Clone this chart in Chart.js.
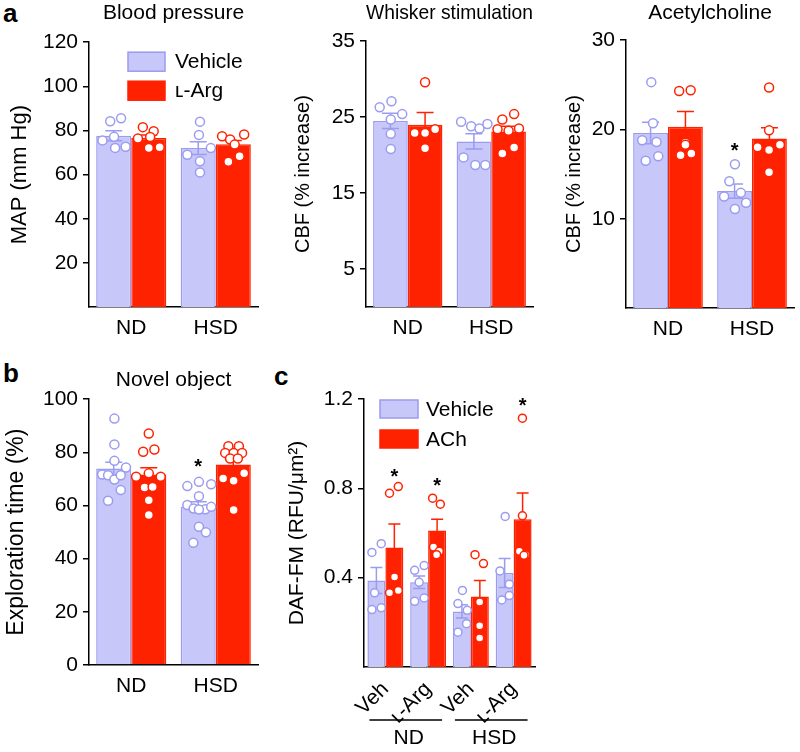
<!DOCTYPE html>
<html>
<head>
<meta charset="utf-8">
<script src="https://cdn.jsdelivr.net/npm/chart.js@4.4.1/dist/chart.umd.min.js"></script>
<style>
  body { margin: 0; background: #fff; }
  #fig { position: relative; width: 800px; height: 752px; font-family: "Liberation Sans", Arial, sans-serif; }
  #fig canvas { position: absolute; }
  .tag { position: absolute; font-weight: bold; font-size: 26px; line-height: 26px; }
</style>
</head>
<body>
<div id="fig">
  <div class="tag" style="left:3px;top:0px">a</div>
  <div class="tag" style="left:3px;top:360px">b</div>
  <div class="tag" style="left:274px;top:363px">c</div>
  <canvas id="bp" width="265" height="345" style="left:0;top:0"></canvas>
  <canvas id="wh" width="270" height="345" style="left:270px;top:0"></canvas>
  <canvas id="ac" width="260" height="345" style="left:540px;top:0"></canvas>
  <canvas id="nv" width="265" height="345" style="left:0;top:360px"></canvas>
  <canvas id="daf" width="280" height="392" style="left:270px;top:360px"></canvas>
</div>
<script>
(function() {
    'use strict';

    // categories
    var diets = ['ND', 'HSD'];
    var seriesA = ['Vehicle', 'ʟ-Arg'];
    var seriesC = ['Vehicle', 'ACh'];
    var groupsC = ['Veh', 'ʟ-Arg', 'Veh', 'ʟ-Arg'];

    // tick labels
    var bpTicks = [20, 40, 60, 80, 100, 120];
    var whTicks = [5, 15, 25, 35];
    var acTicks = [10, 20, 30];
    var nvTicks = [0, 20, 40, 60, 80, 100];
    var dafTicks = [0.4, 0.8, 1.2];

    // blood pressure, MAP (mm Hg)
    var bpVehMean = [77.6, 72.0];
    var bpVehSem = [2.3, 2.9];
    var bpArgMean = [76.6, 73.8];
    var bpArgSem = [1.4, 1.6];
    var bpVehPts = [[84.2, 85.5, 77.1, 75.5, 72.1, 72.6], [84.0, 78.0, 69.0, 72.0, 66.0, 61.0]];
    var bpArgPts = [[81.5, 79.7, 76.4, 77.0, 72.1, 72.4], [77.4, 75.9, 78.2, 73.6, 65.8, 68.3]];
    var bpVehJit = [[-0.10, 0.21, 0.01, -0.32, 0.04, 0.34], [0.05, 0.02, -0.31, 0.36, 0.05, 0.05]];
    var bpArgJit = [[-0.17, 0.14, -0.31, 0.04, 0.00, 0.31], [-0.32, -0.09, 0.31, 0.04, -0.14, 0.18]];

    // whisker stimulation, CBF (% increase)
    var whVehMean = [24.5, 21.8];
    var whVehSem = [1.0, 1.0];
    var whArgMean = [24.0, 23.1];
    var whArgSem = [1.6, 0.7];
    var whVehPts = [[26.3, 27.1, 25.4, 24.7, 22.8, 20.8], [24.4, 23.8, 23.5, 24.1, 19.7, 18.7, 18.7]];
    var whArgPts = [[29.6, 22.9, 22.9, 23.4, 20.9], [24.7, 25.4, 23.4, 23.2, 23.5, 20.2, 21.0]];
    var whVehJit = [[-0.31, 0.03, 0.34, 0.01, 0.01, 0.01], [-0.37, -0.08, 0.16, 0.39, -0.30, 0.04, 0.33]];
    var whArgJit = [[0.00, -0.30, 0.00, 0.29, 0.00], [-0.18, 0.16, -0.32, 0.00, 0.30, -0.18, 0.16]];

    // acetylcholine, CBF (% increase)
    var acVehMean = [19.6, 13.1];
    var acVehSem = [1.2, 0.8];
    var acArgMean = [20.3, 19.0];
    var acArgSem = [1.7, 1.2];
    var acVehPts = [[25.3, 20.7, 18.8, 18.6, 16.5, 17.0], [16.1, 14.2, 12.5, 12.9, 11.8, 11.1]];
    var acArgPts = [[24.3, 24.4, 18.5, 18.3, 17.1, 17.3], [24.7, 19.9, 18.0, 17.7, 18.3, 15.2]];
    var acVehJit = [[0.02, 0.07, -0.24, 0.17, -0.14, 0.22], [0.01, -0.15, -0.30, 0.18, 0.33, 0.01]];
    var acArgJit = [[-0.18, 0.15, 0.00, 0.00, -0.14, 0.17], [-0.01, -0.01, -0.34, -0.01, 0.30, -0.01]];
    var acVehStar = [null, 18.2];

    // novel object, exploration time (%)
    var nvVehMean = [73.9, 59.5];
    var nvVehSem = [2.4, 1.9];
    var nvArgMean = [71.7, 75.4];
    var nvArgSem = [2.5, 2.0];
    var nvVehPts = [[92.7, 83.0, 76.8, 74.3, 71.7, 71.4, 69.8, 71.4, 65.8, 61.8],
                    [67.3, 68.9, 68.0, 63.5, 60.2, 58.9, 58.6, 59.5, 58.5, 52.0, 49.9, 46.0]];
    var nvArgPts = [[87.1, 80.2, 81.1, 72.1, 70.8, 70.8, 66.8, 67.0, 62.0, 56.4],
                    [82.3, 82.3, 79.8, 79.8, 79.8, 77.7, 77.7, 70.2, 69.3, 72.1, 58.3]];
    var nvVehJit = [[0.02, 0.02, 0.02, 0.35, -0.33, -0.16, 0.02, 0.20, 0.20, -0.16],
                    [-0.31, 0.02, 0.37, 0.02, -0.31, -0.13, 0.20, 0.37, 0.02, 0.02, 0.22, -0.14]];
    var nvArgJit = [[0.00, -0.16, 0.16, 0.00, -0.36, 0.34, -0.12, 0.11, 0.00, 0.00],
                    [-0.14, 0.16, -0.23, 0.01, 0.25, -0.09, 0.13, -0.29, 0.01, 0.31, 0.01]];
    var nvVehStar = [null, 76.4];

    // DAF-FM (RFU/um2)
    var dafVehMean = [0.387, 0.379, 0.249, 0.421];
    var dafVehSem = [0.058, 0.028, 0.030, 0.065];
    var dafAchMean = [0.535, 0.611, 0.316, 0.662];
    var dafAchSem = [0.105, 0.051, 0.071, 0.117];
    var dafVehPts = [[0.513, 0.552, 0.332, 0.257, 0.265], [0.433, 0.454, 0.379, 0.294, 0.309],
                     [0.343, 0.284, 0.254, 0.194, 0.156], [0.674, 0.430, 0.370, 0.300, 0.320]];
    var dafAchPts = [[0.778, 0.808, 0.403, 0.332, 0.343], [0.756, 0.729, 0.537, 0.518, 0.503],
                     [0.503, 0.463, 0.291, 0.185, 0.130], [1.114, 0.677, 0.518, 0.503, 0.500]];
    var dafVehJit = [[-0.25, 0.27, -0.10, -0.25, 0.27], [-0.25, 0.28, 0.00, -0.25, 0.28],
                     [0.03, -0.22, 0.30, 0.26, -0.22], [0.03, -0.26, 0.26, -0.16, 0.26]];
    var dafAchJit = [[-0.27, 0.22, 0.01, -0.27, 0.22], [-0.25, 0.18, -0.20, 0.12, -0.03],
                     [-0.27, 0.20, -0.01, -0.01, -0.01], [-0.01, -0.01, -0.18, 0.17, 0.08]];
    var dafAchStar = [0.875, 0.834, null, 1.19];

    var FONT = '"Liberation Sans", Arial, sans-serif';
    var VEH_FILL = 'rgb(199,199,250)';
    var VEH_LINE = 'rgb(155,155,240)';
    var RED = 'rgb(255,34,0)';

    Chart.defaults.font.family = FONT;
    Chart.defaults.color = '#000';

    // error bars drawn right after each bar dataset
    var errorBars = {
        id: 'errorBars',
        afterDatasetDraw: function(chart, args, opts) {
            var ds = chart.data.datasets[args.index];
            if (!ds.sem) return;
            var y = chart.scales.y, ctx = chart.ctx, h = opts.cap / 2;
            ctx.save();
            ctx.strokeStyle = ds.borderColor;
            ctx.lineWidth = 1.5;
            args.meta.data.forEach(function(el, i) {
                var top = y.getPixelForValue(ds.data[i] + ds.sem[i]);
                var bot = y.getPixelForValue(ds.data[i] - ds.sem[i]);
                ctx.beginPath();
                ctx.moveTo(el.x, top); ctx.lineTo(el.x, bot);
                ctx.moveTo(el.x - h, top); ctx.lineTo(el.x + h, top);
                ctx.moveTo(el.x - h, bot); ctx.lineTo(el.x + h, bot);
                ctx.stroke();
            });
            ctx.restore();
        }
    };

    // individual animals: open circles spread across their bar, y from the value scale
    var animalDots = {
        id: 'animalDots',
        afterDatasetsDraw: function(chart, args, o) {
            var ctx = chart.ctx, y = chart.scales.y;
            ctx.save();
            ctx.lineWidth = 1.5;
            ctx.fillStyle = '#fff';
            chart.data.datasets.forEach(function(ds, d) {
                if (!ds.pts) return;
                var meta = chart.getDatasetMeta(d);
                ctx.strokeStyle = ds.borderColor;
                meta.data.forEach(function(bar, i) {
                    ds.pts[i].forEach(function(v, k) {
                        ctx.beginPath();
                        ctx.arc(bar.x + ds.jit[i][k] * bar.width, y.getPixelForValue(v), o.r, 0, Math.PI * 2);
                        ctx.fill();
                        ctx.stroke();
                    });
                });
            });
            ctx.restore();
        }
    };

    var stars = {
        id: 'stars',
        afterDatasetsDraw: function(chart) {
            var ctx = chart.ctx, y = chart.scales.y;
            ctx.save();
            ctx.font = 'bold 20px ' + FONT;
            ctx.textAlign = 'center';
            ctx.fillStyle = '#000';
            chart.data.datasets.forEach(function(ds, d) {
                if (!ds.star) return;
                var meta = chart.getDatasetMeta(d);
                ds.star.forEach(function(v, i) {
                    if (v === null) return;
                    ctx.fillText('*', meta.data[i].x, y.getPixelForValue(v) + 11);
                });
            });
            ctx.restore();
        }
    };

    var boxLegend = {
        id: 'boxLegend',
        afterDraw: function(chart, args, o) {
            if (o.x === undefined) return;
            var ctx = chart.ctx, a = chart.chartArea;
            ctx.save();
            ctx.font = '21px ' + FONT;
            ctx.textBaseline = 'middle';
            chart.data.datasets.forEach(function(ds, k) {
                var x = a.left + o.x, y = a.top + o.y + k * o.step;
                ctx.fillStyle = ds.backgroundColor;
                ctx.fillRect(x, y, o.w, o.h);
                ctx.strokeStyle = ds.borderColor;
                ctx.lineWidth = 1.5;
                ctx.strokeRect(x, y, o.w, o.h);
                ctx.fillStyle = '#000';
                ctx.fillText(ds.label, x + o.w + o.gap, y + o.h / 2 + 1);
            });
            ctx.restore();
        }
    };

    // ND / HSD brackets under the rotated labels of panel c
    var groupAxis = {
        id: 'groupAxis',
        afterDraw: function(chart, args, o) {
            if (!o.groups) return;
            var ctx = chart.ctx, a = chart.chartArea;
            var m0 = chart.getDatasetMeta(0), m1 = chart.getDatasetMeta(1);
            ctx.save();
            ctx.strokeStyle = '#000';
            ctx.lineWidth = 1.5;
            ctx.fillStyle = '#000';
            ctx.font = '21px ' + FONT;
            ctx.textAlign = 'center';
            ctx.textBaseline = 'middle';
            o.groups.forEach(function(name, g) {
                var b0 = m0.data[g * o.span], b1 = m1.data[g * o.span + o.span - 1];
                var x0 = b0.x - b0.width / 2 + 2, x1 = b1.x + b1.width / 2 - 4;
                ctx.beginPath();
                ctx.moveTo(x0, a.bottom + o.lineY);
                ctx.lineTo(x1, a.bottom + o.lineY);
                ctx.stroke();
                ctx.fillText(name, (x0 + x1) / 2 + 3, a.bottom + o.textY);
            });
            ctx.restore();
        }
    };

    function drawPanel(p) {
        var canvas = document.getElementById(p.id);
        var W = canvas.width, H = canvas.height;
        var datasets = p.series.map(function(s) {
            return {
                label: s.name, data: s.mean, sem: s.sem, pts: s.pts, jit: s.jit, star: s.star || null,
                backgroundColor: s.fill, borderColor: s.line, borderWidth: 1.5,
                barPercentage: 1, categoryPercentage: p.catPct
            };
        });

        new Chart(canvas, {
            type: 'bar',
            data: {labels: p.labels, datasets: datasets},
            plugins: [errorBars, animalDots, stars, boxLegend, groupAxis],
            options: {
                responsive: false,
                animation: false,
                events: [],
                layout: {padding: {left: 0, top: p.title ? 0 : p.area[1], right: W - p.area[2], bottom: 0}},
                plugins: {
                    legend: {display: false},
                    tooltip: {enabled: false},
                    title: p.title ? {
                        display: true, text: p.title, fullSize: false, color: '#000',
                        font: {size: 21, weight: 'normal'}, padding: p.titlePad
                    } : {display: false},
                    errorBars: {cap: p.cap},
                    animalDots: {r: p.dot},
                    boxLegend: p.legend || {},
                    groupAxis: p.groupAxis || {}
                },
                scales: {
                    x: {
                        offset: true,
                        grid: {display: false},
                        border: {display: true, color: '#000', width: 1.5},
                        ticks: {font: {size: 21}, color: '#000', padding: p.xPad, autoSkip: false,
                                minRotation: p.rot || 0, maxRotation: p.rot || 0},
                        afterFit: function(s) { s.height = H - p.area[3]; }
                    },
                    y: {
                        min: 0,
                        max: p.max,
                        afterBuildTicks: function(s) {
                            s.ticks = p.ticks.map(function(v) { return {value: v}; });
                        },
                        afterFit: function(s) { s.width = p.area[0]; },
                        grid: {drawOnChartArea: false, drawTicks: true, tickLength: 6, color: '#000', lineWidth: 1.5},
                        border: {display: true, color: '#000', width: 1.5},
                        ticks: {
                            font: {size: 21}, color: '#000', padding: 5,
                            callback: function(v) { return p.dec ? v.toFixed(p.dec) : String(v); }
                        },
                        title: {display: true, text: p.yTitle, color: '#000',
                                font: {size: p.yTitleSize}, padding: {top: p.yTitlePad, bottom: 0}}
                    }
                }
            }
        });
    }

    drawPanel({
        id: 'bp', title: 'Blood pressure', titlePad: {top: 1, bottom: 16},
        area: [89, 42, 258, 307], max: 120, ticks: bpTicks, labels: diets,
        yTitle: 'MAP (mm Hg)', yTitleSize: 22, yTitlePad: 7,
        catPct: 0.83, dot: 4.5, cap: 17, xPad: 1,
        legend: {x: 39, y: 10, w: 37, h: 19, step: 29, gap: 10},
        series: [
            {name: seriesA[0], mean: bpVehMean, sem: bpVehSem, pts: bpVehPts, jit: bpVehJit, fill: VEH_FILL, line: VEH_LINE},
            {name: seriesA[1], mean: bpArgMean, sem: bpArgSem, pts: bpArgPts, jit: bpArgJit, fill: RED, line: RED}
        ]
    });

    drawPanel({
        id: 'wh', title: 'Whisker stimulation', titlePad: {top: 1, bottom: 15},
        area: [96, 41, 263, 307], max: 35, ticks: whTicks, labels: diets,
        yTitle: 'CBF (% increase)', yTitleSize: 20, yTitlePad: 21,
        catPct: 0.83, dot: 4.5, cap: 17, xPad: 1,
        series: [
            {name: seriesA[0], mean: whVehMean, sem: whVehSem, pts: whVehPts, jit: whVehJit, fill: VEH_FILL, line: VEH_LINE},
            {name: seriesA[1], mean: whArgMean, sem: whArgSem, pts: whArgPts, jit: whArgJit, fill: RED, line: RED}
        ]
    });

    drawPanel({
        id: 'ac', title: 'Acetylcholine', titlePad: {top: 1, bottom: 14},
        area: [86, 40, 254, 308], max: 30, ticks: acTicks, labels: diets,
        yTitle: 'CBF (% increase)', yTitleSize: 20, yTitlePad: 22,
        catPct: 0.83, dot: 4.5, cap: 17, xPad: 1,
        series: [
            {name: seriesA[0], mean: acVehMean, sem: acVehSem, pts: acVehPts, jit: acVehJit, fill: VEH_FILL, line: VEH_LINE, star: acVehStar},
            {name: seriesA[1], mean: acArgMean, sem: acArgSem, pts: acArgPts, jit: acArgJit, fill: RED, line: RED}
        ]
    });

    drawPanel({
        id: 'nv', title: 'Novel object', titlePad: {top: 8, bottom: 6},
        area: [89, 39, 258, 305], max: 100, ticks: nvTicks, labels: diets,
        yTitle: 'Exploration time (%)', yTitleSize: 23, yTitlePad: 3,
        catPct: 0.83, dot: 4.5, cap: 17, xPad: 1,
        series: [
            {name: seriesA[0], mean: nvVehMean, sem: nvVehSem, pts: nvVehPts, jit: nvVehJit, fill: VEH_FILL, line: VEH_LINE, star: nvVehStar},
            {name: seriesA[1], mean: nvArgMean, sem: nvArgSem, pts: nvArgPts, jit: nvArgJit, fill: RED, line: RED}
        ]
    });

    drawPanel({
        id: 'daf', title: null,
        area: [94, 39, 265, 307], max: 1.2, ticks: dafTicks, labels: groupsC, dec: 1,
        yTitle: 'DAF-FM (RFU/μm²)', yTitleSize: 21, yTitlePad: 15,
        catPct: 0.84, dot: 4, cap: 12, xPad: 2, rot: 45,
        legend: {x: 16, y: 1, w: 38, h: 18, step: 30, gap: 8},
        groupAxis: {groups: diets, span: 2, lineY: 53, textY: 71},
        series: [
            {name: seriesC[0], mean: dafVehMean, sem: dafVehSem, pts: dafVehPts, jit: dafVehJit, fill: VEH_FILL, line: VEH_LINE},
            {name: seriesC[1], mean: dafAchMean, sem: dafAchSem, pts: dafAchPts, jit: dafAchJit, fill: RED, line: RED, star: dafAchStar}
        ]
    });
})();
</script>
</body>
</html>
